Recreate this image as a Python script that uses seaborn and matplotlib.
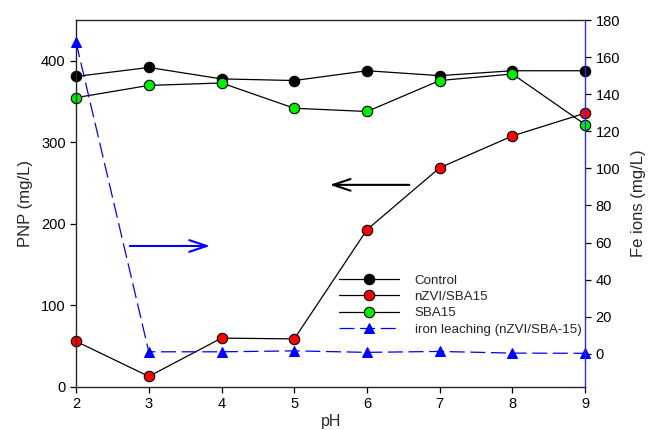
import numpy as np
import pandas as pd
import matplotlib
matplotlib.use('Agg')
import matplotlib.pyplot as plt
import seaborn as sns

# ── Data ──────────────────────────────────────────────────────────────────────
ph       = [2, 3, 4, 5, 6, 7, 8, 9]
control  = [381, 392, 378, 376, 388, 382, 388, 388]
nzvi     = [56, 13, 60, 59, 193, 269, 308, 336]
sba15    = [355, 370, 373, 342, 338, 376, 384, 322]
iron     = [168, 1.0, 1.0, 1.5, 0.7, 1.2, 0.3, 0.2]

# ── Style ─────────────────────────────────────────────────────────────────────
sns.set_theme(style='ticks')
plt.rcParams['font.family'] = ['Liberation Sans', 'DejaVu Sans']
plt.rcParams.update({'font.size': 10.5, 'axes.linewidth': 1.0})

fig, ax = plt.subplots(figsize=(6.56, 4.30), dpi=100)
fig.subplots_adjust(left=0.116, right=0.892, top=0.953, bottom=0.1)

mk = dict(marker='o', markersize=7.5, markeredgecolor='black', markeredgewidth=0.8,
          linewidth=0.9, color='black', clip_on=False)
sns.lineplot(x=ph, y=control, ax=ax, markerfacecolor='black', label='Control', **mk)
sns.lineplot(x=ph, y=nzvi, ax=ax, markerfacecolor='#ff0000', label='nZVI/SBA15', **mk)
sns.lineplot(x=ph, y=sba15, ax=ax, markerfacecolor='#00ee00', label='SBA15', **mk)

ax.set_xlim(2, 9)
ax.set_ylim(0, 450)
ax.set_yticks([0, 100, 200, 300, 400])
ax.set_xticks(ph)
ax.set_xlabel('pH', fontsize=11.5, labelpad=2)
ax.set_ylabel('PNP (mg/L)', fontsize=12, labelpad=6)
ax.tick_params(direction='out', length=4, width=0.9, colors='black', labelsize=10.5)
ax.spines['right'].set_visible(False)

ax2 = ax.twinx()
sns.lineplot(x=ph, y=iron, ax=ax2, color='#0000ff', linestyle=(0, (12, 4.5)), linewidth=0.9,
             marker='^', markersize=7.5, markeredgecolor='#0000ff', clip_on=False,
             label='iron leaching (nZVI/SBA-15)')
ax2.set_ylim(-18, 180)
ax2.set_yticks(range(0, 181, 20))
ax2.set_ylabel('Fe ions (mg/L)', fontsize=12, labelpad=8)
ax2.spines['right'].set_color('#2b2bff')
ax2.spines['right'].set_linewidth(1.0)
for s in ['left', 'top', 'bottom']:
    ax2.spines[s].set_visible(False)
ax2.tick_params(direction='out', length=4, width=0.9, colors='black', labelsize=10.5)

# combined legend
h1, l1 = ax.get_legend_handles_labels()
h2, l2 = ax2.get_legend_handles_labels()
ax.get_legend().remove()
ax2.legend(h1 + h2, l1 + l2, loc='lower left', bbox_to_anchor=(0.505, 0.125),
           frameon=False, fontsize=9.6, handlelength=4.5, handletextpad=1.2,
           labelspacing=0.3, borderaxespad=0)

# arrows pointing to the relevant axis
ax.annotate('', xy=(5.45, 248), xytext=(6.62, 248),
            arrowprops=dict(arrowstyle='->,head_length=1.2,head_width=0.4',
                            color='black', lw=1.5))
ax.annotate('', xy=(3.88, 173), xytext=(2.7, 173),
            arrowprops=dict(arrowstyle='->,head_length=1.2,head_width=0.4',
                            color='#0000ff', lw=1.5))

fig.savefig('out.png', dpi=100)
